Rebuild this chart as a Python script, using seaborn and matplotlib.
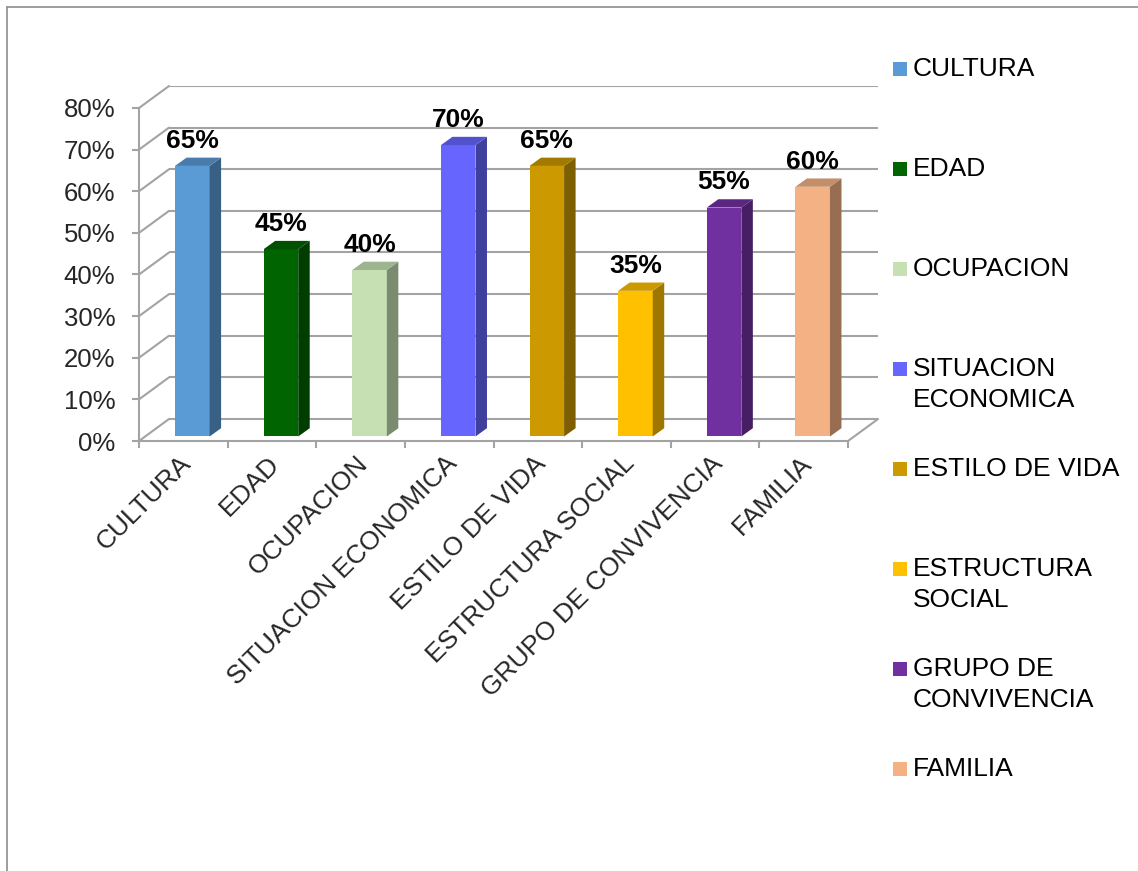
import matplotlib
matplotlib.use("Agg")
import matplotlib.pyplot as plt
import matplotlib.transforms as mtransforms
import matplotlib.colors as mcolors
from matplotlib.patches import Polygon, Rectangle
from matplotlib.lines import Line2D
import pandas as pd
import seaborn as sns

# ---- data -------------------------------------------------------------
categories = ["CULTURA", "EDAD", "OCUPACION", "SITUACION ECONOMICA",
              "ESTILO DE VIDA", "ESTRUCTURA SOCIAL", "GRUPO DE CONVIVENCIA",
              "FAMILIA"]
values = [65, 45, 40, 70, 65, 35, 55, 60]
legend_labels = ["CULTURA", "EDAD", "OCUPACION", "SITUACION\nECONOMICA",
                 "ESTILO DE VIDA", "ESTRUCTURA\nSOCIAL", "GRUPO DE\nCONVIVENCIA",
                 "FAMILIA"]
colors = ["#5B9BD5", "#006400", "#C6E0B4", "#6666FF",
          "#CC9900", "#FFC000", "#7030A0", "#F4B183"]
y_ticks = [0, 10, 20, 30, 40, 50, 60, 70, 80]
y_tick_labels = [f"{t}%" for t in y_ticks]

# ---- style ------------------------------------------------------------
sns.set_theme(style="white")
plt.rcParams["font.family"] = ["Liberation Sans", "DejaVu Sans"]
FS = 19
FS_TICK = 18.5
GRID = "#a3a3a3"
GRID_LW = 1.5

W, H = 1138, 871
fig = plt.figure(figsize=(W / 100, H / 100), dpi=100)
fig.patch.set_facecolor("white")

# plot box in pixels (front axis at x=139, floor at y=441, back wall top y=86)
left_px, right_px, floor_px, top_px = 139, 878, 441, 86
ax = fig.add_axes([left_px / W, (H - floor_px) / H,
                   (right_px - left_px) / W, (floor_px - top_px) / H])

n = len(categories)
px_per_x = (848 - left_px) / n          # pixels per category
px_per_y = (floor_px - 108) / 80.0      # pixels per percent
wall_dx, wall_dy = 30 / px_per_x, 22 / px_per_y      # depth of the box
front_dx, front_dy = 9 / px_per_x, 4.5 / px_per_y    # bar front-face offset
bar_dx, bar_dy = 11.5 / px_per_x, 8.3 / px_per_y     # bar depth
x0, x1 = -0.5, n - 0.5

# ---- bars ---------------------------------------------------------------
df = pd.DataFrame({"categoria": categories, "valor": values})
sns.barplot(data=df, x="categoria", y="valor", hue="categoria",
            palette=colors, width=0.39, saturation=1, legend=False,
            linewidth=0, ax=ax, zorder=3)

ax.set_xlim(x0, x1 + wall_dx)
ax.set_ylim(0, 80 + wall_dy)
ax.set_facecolor("none")

shift = mtransforms.Affine2D().translate(front_dx, front_dy) + ax.transData
for cont, val in zip(ax.containers, values):
    for p in cont:
        p.set_transform(shift)
        base = mcolors.to_rgb(p.get_facecolor())
        side = tuple(c * 0.62 for c in base)
        top = tuple(c * 0.80 for c in base)
        bx, bw, bh = p.get_x(), p.get_width(), p.get_height()
        ax.add_patch(Polygon([(bx + bw, 0), (bx + bw + bar_dx, bar_dy),
                              (bx + bw + bar_dx, bh + bar_dy), (bx + bw, bh)],
                             closed=True, facecolor=side, edgecolor="none",
                             transform=shift, zorder=3))
        ax.add_patch(Polygon([(bx, bh), (bx + bar_dx, bh + bar_dy),
                              (bx + bw + bar_dx, bh + bar_dy), (bx + bw, bh)],
                             closed=True, facecolor=top, edgecolor="none",
                             transform=shift, zorder=3))
        ax.annotate(f"{val}%", xy=(bx + bw / 2 + front_dx,
                                   bh + bar_dy + front_dy),
                    xytext=(0, 3.5), textcoords="offset points",
                    ha="center", va="bottom", fontsize=FS,
                    fontweight="bold", color="black", zorder=5)

# ---- 3D box: back wall grid, side wall diagonals, floor ---------------
for t in y_ticks:
    ax.plot([x0 + wall_dx, x1 + wall_dx], [t + wall_dy, t + wall_dy],
            color=GRID, lw=GRID_LW, zorder=1, solid_capstyle="butt")
    ax.plot([x0, x0 + wall_dx], [t, t + wall_dy], color=GRID, lw=GRID_LW,
            zorder=1, clip_on=False)
ax.plot([x1, x1 + wall_dx], [0, wall_dy], color=GRID, lw=GRID_LW, zorder=1,
        clip_on=False)
ax.set_xlim(x0, x1 + wall_dx)
ax.set_ylim(0, 80 + wall_dy)

# ---- axes ---------------------------------------------------------------
for s in ["top", "right"]:
    ax.spines[s].set_visible(False)
for s in ["left", "bottom"]:
    ax.spines[s].set_color(GRID)
    ax.spines[s].set_linewidth(GRID_LW)
    ax.spines[s].set_zorder(2)
ax.spines["left"].set_bounds(0, 80)
ax.spines["bottom"].set_bounds(x0, x1)

ax.set_yticks(y_ticks)
ax.set_yticklabels(y_tick_labels, fontsize=FS_TICK)
ax.tick_params(axis="y", length=5, width=GRID_LW, color=GRID, pad=12,
               direction="out", left=True)

ax.set_xticks(range(n))
ax.set_xticks([i - 0.5 for i in range(n + 1)], minor=True)
ax.set_xticklabels(categories, fontsize=FS, rotation=45, ha="right",
                   rotation_mode="anchor", va="center")
ax.tick_params(axis="x", which="major", length=0, pad=15)
ax.tick_params(axis="x", which="minor", length=5, width=GRID_LW, color=GRID,
               direction="out", bottom=True)
nudge = mtransforms.ScaledTranslation(4 / 100, 2 / 100, fig.dpi_scale_trans)
for lbl in ax.get_xticklabels():
    lbl.set_transform(lbl.get_transform() + nudge)
ax.set_xlabel("")
ax.set_ylabel("")

# ---- legend -------------------------------------------------------------
for i, (lab, col) in enumerate(zip(legend_labels, colors)):
    yc = 69 + 100 * i
    fig.add_artist(Rectangle((893 / W, 1 - (yc + 7) / H), 14 / W, 14 / H,
                             transform=fig.transFigure, facecolor=col,
                             edgecolor="none"))
    for j, line in enumerate(lab.split("\n")):
        fig.text(913 / W, 1 - (yc + 31 * j) / H, line, fontsize=FS,
                 ha="left", va="center", color="black")

# ---- outer frame --------------------------------------------------------
frame = "#8c8c8c"
fig.add_artist(Line2D([7 / W, 1], [1 - 7 / H, 1 - 7 / H],
                      transform=fig.transFigure, color=frame, lw=1.2))
fig.add_artist(Line2D([7 / W, 7 / W], [0, 1 - 7 / H],
                      transform=fig.transFigure, color=frame, lw=1.2))

fig.savefig("out.png", dpi=100, facecolor="white")
